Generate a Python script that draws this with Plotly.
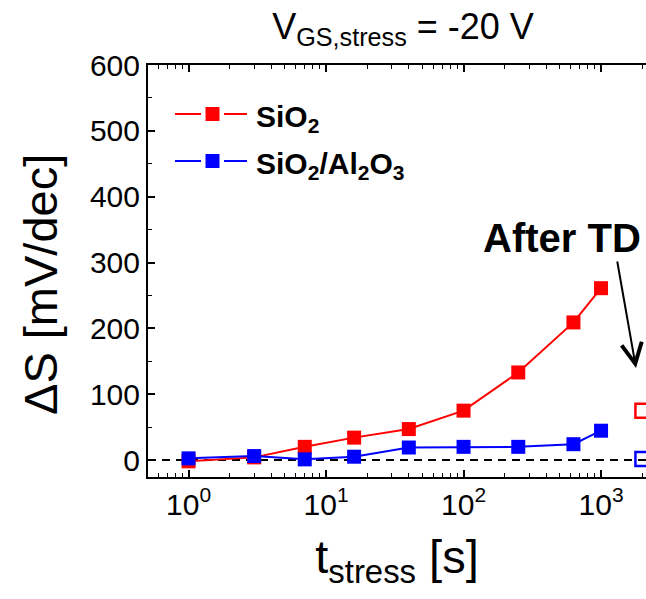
import plotly.graph_objects as go

# Stress time (s) and subthreshold-swing shift (mV/dec)
t_stress = [1, 3, 7, 16, 40, 100, 250, 630, 1000]
ds_sio2 = [-2, 4, 20, 34, 47, 75, 133, 209, 261]
ds_sio2_al2o3 = [2.5, 6, 1, 5, 19, 20, 20, 24, 44.5]

# Recovered values after thermal detrapping (TD)
t_after_td = [2000]
ds_sio2_td = [75]
ds_sio2_al2o3_td = [1.5]

x_tickvals = [1, 10, 100, 1000]
x_ticktext = ["10<sup>0</sup>", "10<sup>1</sup>", "10<sup>2</sup>", "10<sup>3</sup>"]
y_tickvals = [0, 100, 200, 300, 400, 500, 600]

RED = "#ff0000"
BLUE = "#0000ff"
FONT = "Liberation Sans, Arial, sans-serif"

W, H = 646, 599
L, R, T, B = 148, 0, 65, 122
PW, PH = W - L - R, H - T - B


def px(x):
    return (x - L) / PW


def py(y):
    return (H - B - y) / PH


fig = go.Figure()

fig.add_trace(go.Scatter(
    x=t_stress, y=ds_sio2, mode="lines+markers", name="SiO2",
    line=dict(color=RED, width=2),
    marker=dict(symbol="square", size=14, color=RED),
    showlegend=False,
))
fig.add_trace(go.Scatter(
    x=t_stress, y=ds_sio2_al2o3, mode="lines+markers", name="SiO2/Al2O3",
    line=dict(color=BLUE, width=2),
    marker=dict(symbol="square", size=14, color=BLUE),
    showlegend=False,
))
fig.add_trace(go.Scatter(
    x=t_after_td, y=ds_sio2_td, mode="markers",
    marker=dict(symbol="square-open", size=14, color=RED, line=dict(width=2.5)),
    showlegend=False,
))
fig.add_trace(go.Scatter(
    x=t_after_td, y=ds_sio2_al2o3_td, mode="markers",
    marker=dict(symbol="square-open", size=14, color=BLUE, line=dict(width=2.5)),
    showlegend=False,
))

# zero reference line
fig.add_shape(type="line", xref="paper", yref="y", x0=0, x1=1, y0=0, y1=0,
              line=dict(color="black", width=2, dash="8px,6px"), layer="below")

# legend drawn as line/marker samples with bold labels
legend_rows = [(114, RED, "SiO<sub>2</sub>"),
               (161, BLUE, "SiO<sub>2</sub>/Al<sub>2</sub>O<sub>3</sub>")]
for ypix, col, label in legend_rows:
    for a, b in [(175, 201), (224, 247)]:
        fig.add_shape(type="line", xref="paper", yref="paper",
                      x0=px(a), x1=px(b), y0=py(ypix), y1=py(ypix),
                      line=dict(color=col, width=2))
    fig.add_shape(type="rect", xref="paper", yref="paper",
                  x0=px(205.5), x1=px(219.5), y0=py(ypix + 7), y1=py(ypix - 7),
                  fillcolor=col, line=dict(width=0))
    fig.add_annotation(text=label, xref="paper", yref="paper",
                       x=px(254), y=py(ypix + 4), xanchor="left", yanchor="middle",
                       showarrow=False,
                       font=dict(family=FONT, size=30, color="black", weight="bold"))

# "After TD" label and arrow
fig.add_annotation(text="After TD", xref="paper", yref="paper",
                   x=px(562), y=py(238), xanchor="center", yanchor="middle",
                   showarrow=False,
                   font=dict(family=FONT, size=40, color="black", weight="bold"))
fig.add_annotation(text="", xref="paper", yref="paper",
                   x=px(636), y=py(368), ax=-19, ay=-108,
                   showarrow=True, arrowhead=5, arrowsize=2, arrowwidth=2,
                   arrowcolor="black")

# y-axis title
fig.add_annotation(text="\u0394S [mV/dec]", xref="paper", yref="paper",
                   x=px(40), y=py(285), xanchor="center", yanchor="middle",
                   textangle=-90, showarrow=False,
                   font=dict(family=FONT, size=47, color="black"))

fig.update_layout(
    width=W, height=H,
    margin=dict(l=L, r=R, t=T, b=B, pad=0),
    paper_bgcolor="white", plot_bgcolor="white",
    font=dict(family=FONT, color="black"),
    title=dict(text="V<sub>GS,stress</sub> = -20 V", xref="paper", x=px(403),
               xanchor="center", yref="container", y=1 - 26 / H, yanchor="middle",
               font=dict(family=FONT, size=36, color="black")),
)

fig.update_xaxes(
    type="log", range=[-0.295, 3.327],
    tickvals=x_tickvals, ticktext=x_ticktext,
    ticks="inside", ticklen=7, tickwidth=1.5, tickcolor="black",
    minor=dict(ticks="inside", ticklen=4, tickwidth=1.2, tickcolor="black", dtick="D1"),
    showline=True, linecolor="black", linewidth=2, mirror="ticks",
    showgrid=False, zeroline=False, automargin=False,
    tickfont=dict(family=FONT, size=30, color="black"),
    title=dict(text="t<sub>stress</sub> [s]", font=dict(family=FONT, size=47, color="black"),
               standoff=20),
)
fig.update_yaxes(
    range=[-25.8, 600],
    tickvals=y_tickvals,
    ticks="inside", ticklen=7, tickwidth=1.5, tickcolor="black",
    minor=dict(ticks="inside", ticklen=4, tickwidth=1.2, tickcolor="black", dtick=50),
    showline=True, linecolor="black", linewidth=2, mirror=False,
    showgrid=False, zeroline=False, automargin=False,
    tickfont=dict(family=FONT, size=30, color="black"),
)

fig.write_html("out.html")
